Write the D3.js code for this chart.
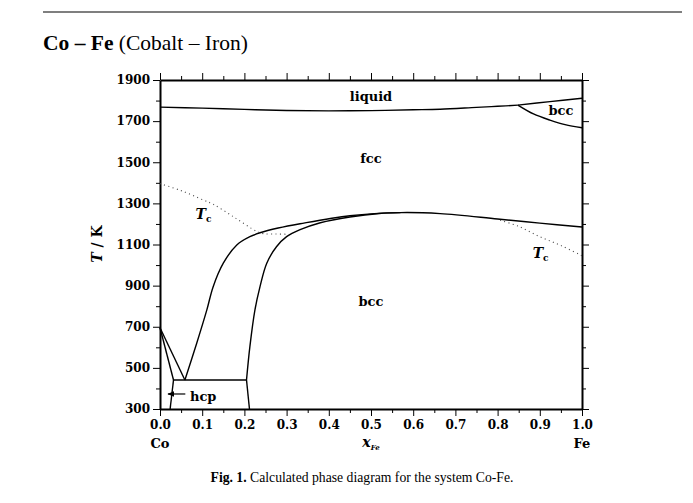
<!DOCTYPE html>
<html>
<head>
<meta charset="utf-8">
<script src="https://cdn.jsdelivr.net/npm/d3@7"></script>
<style>
  body { margin: 0; background: #fff; }
  svg { display: block; }
  .axis path, .axis line { stroke: #000; }
  .axis text { font-family: "DejaVu Serif"; font-weight: bold; font-size: 12px; fill: #000; }
  .phase { fill: none; stroke: #000; stroke-width: 1.4; }
  .curie { fill: none; stroke: #444; stroke-width: 1.1; stroke-dasharray: 1 3.4; }
  .lbl { font-family: "DejaVu Serif"; font-weight: bold; font-size: 13px; }
</style>
</head>
<body>
<script>
// phase boundaries, [x_Fe, T/K]
const liquidus = [[0, 1768], [0.1, 1763], [0.2, 1757], [0.3, 1752], [0.4, 1750], [0.5, 1751], [0.6, 1755], [0.664, 1758], [0.75, 1767], [0.8, 1772], [0.848, 1778]];
const bccLiquid = [[0.848, 1778], [0.924, 1795], [1.0, 1811]];
const bccDelta = [[0.848, 1778], [0.885, 1735], [0.924, 1705], [0.96, 1683], [1.0, 1668]];
const fccBound = [[0.059, 441], [0.087, 620], [0.111, 782], [0.126, 895], [0.15, 1009], [0.182, 1098], [0.213, 1138], [0.237, 1157], [0.28, 1180], [0.332, 1201], [0.45, 1240], [0.57, 1255], [0.664, 1250], [0.8, 1224], [0.9, 1204], [1.0, 1185]];
const bccBound = [[0.205, 441], [0.213, 603], [0.225, 782], [0.237, 895], [0.253, 1009], [0.276, 1089], [0.3, 1138], [0.332, 1172], [0.38, 1206], [0.45, 1234], [0.52, 1251], [0.57, 1255]];
const hcpLines = [
  [[0, 695], [0.059, 441]],
  [[0, 695], [0.032, 441]],
  [[0.032, 441], [0.205, 441]],
  [[0.032, 441], [0.024, 300]],
  [[0.205, 441], [0.212, 300]]
];
const curieLeft = [[0, 1396], [0.05, 1362], [0.103, 1316], [0.126, 1296], [0.174, 1235], [0.229, 1164], [0.245, 1153], [0.275, 1151], [0.305, 1150]];
const curieRight = [[0.806, 1218], [0.85, 1188], [0.9, 1138], [0.95, 1095], [1.0, 1045]];

const xTicks = d3.range(0, 1.0001, 0.05);
const xLabels = [0, 0.1, 0.2, 0.3, 0.4, 0.5, 0.6, 0.7, 0.8, 0.9, 1.0];
const yTicks = d3.range(300, 1901, 100);
const yLabels = [300, 500, 700, 900, 1100, 1300, 1500, 1700, 1900];

const phaseLabels = [
  { text: 'liquid', x: 0.5, t: 1798 },
  { text: 'bcc', x: 0.95, t: 1730 },
  { text: 'fcc', x: 0.5, t: 1496 },
  { text: 'bcc', x: 0.5, t: 801 }
];
const tcLabels = [{ x: 0.103, t: 1224 }, { x: 0.902, t: 1035 }];

var svg = d3.select('body').append('svg').attr('width', 693).attr('height', 503);

var x = d3.scaleLinear().domain([0, 1]).range([160, 582]),
    y = d3.scaleLinear().domain([300, 1900]).range([409, 80]);

// page header
svg.append('line').attr('x1', 43).attr('x2', 682).attr('y1', 12).attr('y2', 12)
    .attr('stroke', '#555').attr('stroke-width', 1.3);
var title = svg.append('text').attr('x', 43).attr('y', 50)
    .attr('font-family', 'Liberation Serif').attr('font-size', 21.5);
title.append('tspan').attr('font-weight', 'bold').text('Co – Fe');
title.append('tspan').text(' (Cobalt – Iron)');

var fmt = d3.format('.1f');
var isXLabel = d => xLabels.some(l => Math.abs(l - d) < 1e-6);

var gBottom = svg.append('g').attr('class', 'axis').attr('transform', 'translate(0,' + y(300) + ')')
    .call(d3.axisBottom(x).tickValues(xTicks).tickSizeOuter(0)
      .tickFormat(d => isXLabel(d) ? fmt(d) : ''));
var gTop = svg.append('g').attr('class', 'axis').attr('transform', 'translate(0,' + y(1900) + ')')
    .call(d3.axisTop(x).tickValues(xTicks).tickSizeOuter(0).tickFormat(''));
var gLeft = svg.append('g').attr('class', 'axis').attr('transform', 'translate(' + x(0) + ',0)')
    .call(d3.axisLeft(y).tickValues(yTicks).tickSizeOuter(0)
      .tickFormat(d => yLabels.includes(d) ? d : ''));
var gRight = svg.append('g').attr('class', 'axis').attr('transform', 'translate(' + x(1) + ',0)')
    .call(d3.axisRight(y).tickValues(yTicks).tickSizeOuter(0).tickFormat(''));

gBottom.selectAll('.tick line').attr('y2', d => isXLabel(d) ? 7 : 4);
gTop.selectAll('.tick line').attr('y2', d => isXLabel(d) ? -7 : -4);
gLeft.selectAll('.tick line').attr('x2', d => yLabels.includes(d) ? -7 : -4);
gRight.selectAll('.tick line').attr('x2', d => yLabels.includes(d) ? 7 : 4);
gBottom.selectAll('.tick text').attr('y', 11);
gLeft.selectAll('.tick text').attr('x', -10);
svg.selectAll('.axis .domain').attr('stroke-width', 2);

// element labels under the axis
svg.append('text').attr('class', 'lbl').attr('x', x(0)).attr('y', 448).attr('text-anchor', 'middle').attr('font-size', 12).text('Co');
svg.append('text').attr('class', 'lbl').attr('x', x(1)).attr('y', 448).attr('text-anchor', 'middle').attr('font-size', 12).text('Fe');
var xl = svg.append('text').attr('x', x(0.5)).attr('y', 447).attr('text-anchor', 'middle')
    .attr('font-family', 'DejaVu Serif').attr('font-style', 'italic').attr('font-weight', 'bold').attr('font-size', 14);
xl.append('tspan').text('x');
xl.append('tspan').attr('font-size', 7).attr('dy', 3).text('Fe');

var yl = svg.append('text').attr('transform', 'translate(102,244) rotate(-90)').attr('text-anchor', 'middle')
    .attr('font-family', 'DejaVu Serif').attr('font-weight', 'bold').attr('font-size', 14);
yl.append('tspan').attr('font-style', 'italic').text('T');
yl.append('tspan').text(' / K');

// boundaries
var smooth = d3.line().x(d => x(d[0])).y(d => y(d[1])).curve(d3.curveCatmullRom.alpha(0.5));
var straight = d3.line().x(d => x(d[0])).y(d => y(d[1]));

[liquidus, bccLiquid, bccDelta, fccBound, bccBound].forEach(pts => {
  svg.append('path').attr('class', 'phase').attr('d', smooth(pts));
});
hcpLines.forEach(pts => {
  svg.append('path').attr('class', 'phase').attr('d', straight(pts));
});
[curieLeft, curieRight].forEach(pts => {
  svg.append('path').attr('class', 'curie').attr('d', smooth(pts));
});

phaseLabels.forEach(l => {
  svg.append('text').attr('class', 'lbl').attr('x', x(l.x)).attr('y', y(l.t))
      .attr('text-anchor', 'middle').text(l.text);
});
tcLabels.forEach(l => {
  var t = svg.append('text').attr('x', x(l.x)).attr('y', y(l.t)).attr('text-anchor', 'middle')
      .attr('font-family', 'DejaVu Serif').attr('font-weight', 'bold');
  t.append('tspan').attr('font-style', 'italic').attr('font-size', 14).text('T');
  t.append('tspan').attr('font-size', 9).attr('dy', 3).text('c');
});

// hcp label with arrow
svg.append('defs').append('marker').attr('id', 'ah').attr('viewBox', '0 0 10 10')
    .attr('refX', 9).attr('refY', 5).attr('markerWidth', 6).attr('markerHeight', 6).attr('orient', 'auto')
  .append('path').attr('d', 'M0,1L10,5L0,9z').attr('fill', '#000');
svg.append('line').attr('x1', x(0.06)).attr('x2', x(0.019)).attr('y1', y(373)).attr('y2', y(373))
    .attr('stroke', '#000').attr('stroke-width', 1.2).attr('marker-end', 'url(#ah)');
svg.append('text').attr('class', 'lbl').attr('x', x(0.071)).attr('y', y(340)).attr('font-size', 14).text('hcp');

// caption
var cap = svg.append('text').attr('x', 362).attr('y', 482).attr('text-anchor', 'middle')
    .attr('font-family', 'Liberation Serif').attr('font-size', 13.7);
cap.append('tspan').attr('font-weight', 'bold').text('Fig. 1.');
cap.append('tspan').text(' Calculated phase diagram for the system Co-Fe.');
</script>
</body>
</html>
